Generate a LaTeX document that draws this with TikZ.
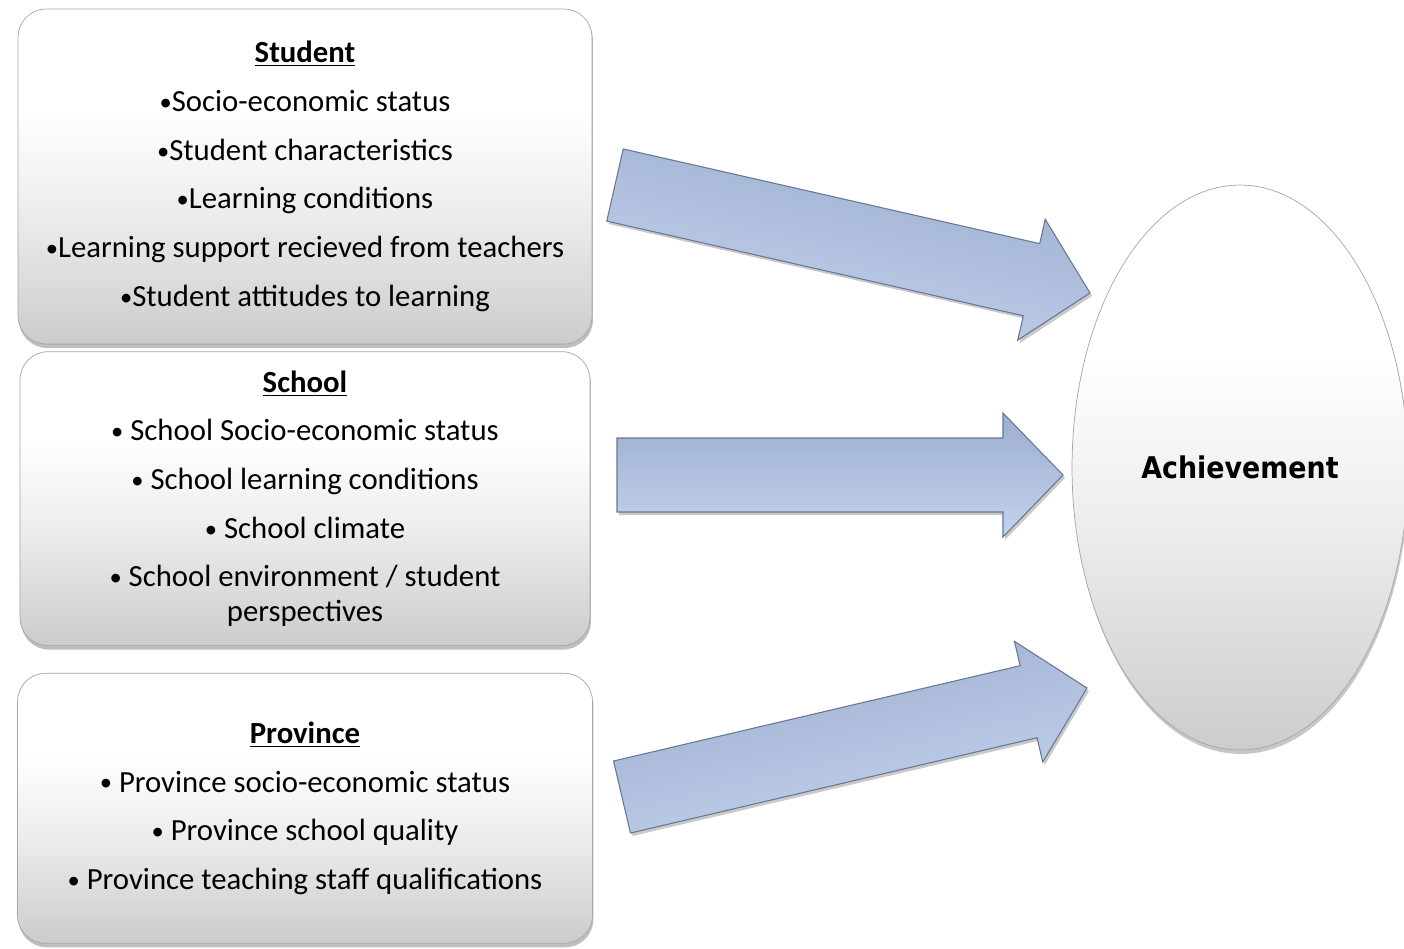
\documentclass[tikz,border=0pt]{standalone}
\usepackage{fontspec}
\setmainfont{Carlito}
\newfontfamily\achfont{DejaVu Sans Condensed}
\usetikzlibrary{calc, positioning, shapes.geometric, shadows}

\definecolor{boxedge}{RGB}{165,165,165}
\definecolor{boxbottom}{RGB}{204,204,204}
\definecolor{arrowfill}{RGB}{164,181,213}
\definecolor{arrowtop}{RGB}{156,173,206}
\definecolor{arrowlight}{RGB}{196,211,238}
\definecolor{arrowedge}{RGB}{104,118,148}

\pgfdeclareverticalshading{boxshade}{100bp}{color(0bp)=(boxbottom); color(25bp)=(boxbottom); color(45bp)=(black!7); color(60bp)=(white); color(100bp)=(white)}

\newcommand{\bul}{{\fontsize{14}{14}\selectfont\raisebox{0.1ex}{•}}}

\tikzstyle{factor}=[draw=boxedge, rounded corners=0.56cm, shading=boxshade, align=center,
  drop shadow={shadow xshift=0.02cm, shadow yshift=-0.08cm, opacity=0.45, fill=black!55},
  font=\fontsize{17.5}{27.7}\selectfont]
\tikzstyle{outcome}=[ellipse, draw=boxedge, shading=boxshade, inner sep=0pt,
  minimum width=6.72cm, minimum height=11.3cm,
  drop shadow={shadow xshift=0.02cm, shadow yshift=-0.08cm, opacity=0.4, fill=black!55},
  font=\achfont\bfseries\fontsize{17}{20}\selectfont]
\tikzstyle{blockarrow}=[draw=arrowedge, line width=0.6pt, line join=miter,
  top color=arrowtop, middle color=arrowfill, bottom color=arrowlight,
  drop shadow={shadow xshift=0.04cm, shadow yshift=-0.06cm, opacity=0.35, fill=black!60}]

% block arrow from #1 to #2, shading turned by #3
\newcommand{\blockarrow}[3]{%
  \coordinate (hb) at ($(#2)!1.2cm!(#1)$);
  \path[blockarrow, shading angle=#3]
    ($(#1)!0.74cm!90:(#2)$) -- ($(hb)!0.74cm!-90:(#1)$) -- ($(hb)!1.24cm!-90:(#1)$)
    -- (#2) -- ($(hb)!1.24cm!90:(#1)$) -- ($(hb)!0.74cm!90:(#1)$)
    -- ($(#1)!0.74cm!-90:(#2)$) -- cycle;
}

\begin{document}
\begin{tikzpicture}[x=0.02cm, y=-0.02cm]
  \useasboundingbox[fill=white] (0,0) rectangle (1404,948);

  \node [factor, minimum width=11.48cm, minimum height=6.7cm] (stu) at (305,176.5)
    {\underline{\textbf{Student}}\\
     \bul Socio-economic status\\
     \bul Student characteristics\\
     \bul Learning conditions\\
     \bul Learning support recieved from teachers\\
     \bul Student attitudes to learning};
  \node [factor, minimum width=11.4cm, minimum height=5.88cm, below=0.14cm of stu] (sch)
    {\underline{\textbf{School}}\\
     \bul{} School Socio-economic status\\
     \bul{} School learning conditions\\
     \bul{} School climate\\
     \bul{} School environment / student\\[-7.9pt]
     perspectives};
  \node [factor, minimum width=11.5cm, minimum height=5.4cm, below=0.54cm of sch] (prv)
    {\underline{\textbf{Province}}\\
     \bul{} Province socio-economic status\\
     \bul{} Province school quality\\
     \bul{} Province teaching staff qualifications};

  \node [outcome] (ach) at (1240,467.5) {Achievement};

  \coordinate (s1) at (615,185);
  \coordinate (t1) at (1090,293);
  \coordinate (s2) at (617,475);
  \coordinate (t2) at (1063,475);
  \coordinate (s3) at (622,797);
  \coordinate (t3) at (1087,688);
  \foreach \s/\t/\a in {s1/t1/-12.8, s2/t2/0, s3/t3/13.2}
    \blockarrow{\s}{\t}{\a};
\end{tikzpicture}
\end{document}
